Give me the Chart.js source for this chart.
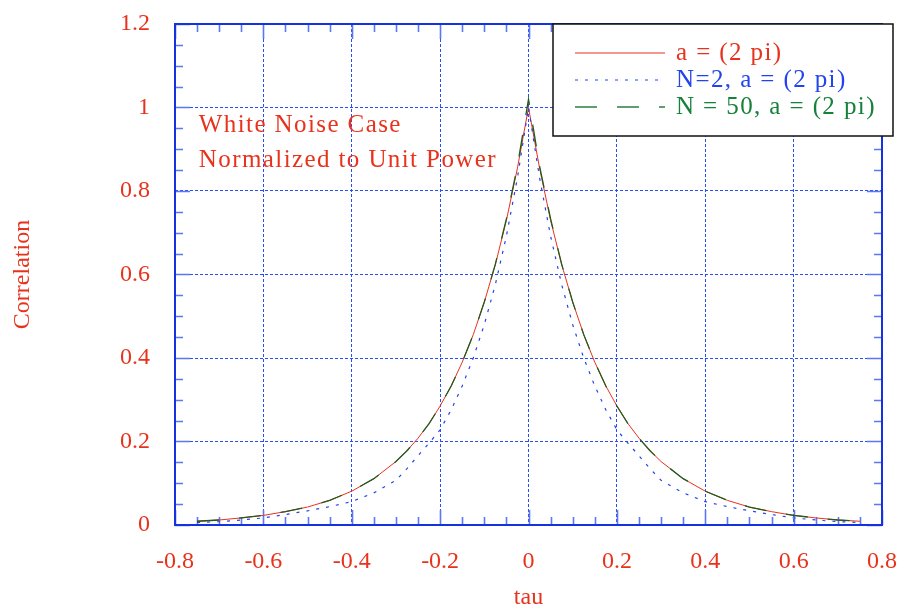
<!DOCTYPE html>
<html><head><meta charset="utf-8">
<script src="https://cdn.jsdelivr.net/npm/chart.js@4.4.1/dist/chart.umd.min.js"></script>
<style>html,body{margin:0;padding:0;background:#fff}#wrap{width:904px;height:613px}</style>
</head><body><div id="wrap"><canvas id="c" width="904" height="613"></canvas></div>
<script>
// ---- data ----
const tau = [-0.75,-0.7,-0.65,-0.6,-0.55,-0.5,-0.45,-0.4,-0.35,-0.3,-0.275,-0.25,-0.225,-0.2,-0.175,-0.15,-0.125,-0.1,-0.075,-0.05,-0.025,0,
             0.025,0.05,0.075,0.1,0.125,0.15,0.175,0.2,0.225,0.25,0.275,0.3,0.35,0.4,0.45,0.5,0.55,0.6,0.65,0.7,0.75];
const corrExact = [0.009,0.012,0.017,0.023,0.032,0.043,0.059,0.081,0.111,0.152,0.178,0.208,0.243,0.285,0.333,0.390,0.456,0.534,0.624,0.730,0.855,1.000,
                   0.855,0.730,0.624,0.534,0.456,0.390,0.333,0.285,0.243,0.208,0.178,0.152,0.111,0.081,0.059,0.043,0.032,0.023,0.017,0.012,0.009];
const corrN2 = [0.006,0.008,0.012,0.017,0.025,0.034,0.044,0.056,0.077,0.107,0.135,0.166,0.196,0.228,0.276,0.333,0.400,0.480,0.576,0.692,0.832,1.000,
                0.832,0.692,0.576,0.480,0.400,0.333,0.276,0.228,0.196,0.166,0.135,0.107,0.077,0.056,0.044,0.034,0.025,0.017,0.012,0.008,0.006];
const corrN50 = [0.009,0.012,0.017,0.023,0.032,0.043,0.059,0.081,0.111,0.152,0.178,0.208,0.243,0.285,0.333,0.390,0.456,0.534,0.625,0.733,0.860,1.020,
                 0.860,0.733,0.625,0.534,0.456,0.390,0.333,0.285,0.243,0.208,0.178,0.152,0.111,0.081,0.059,0.043,0.032,0.023,0.017,0.012,0.009];
const seriesNames = ['a = (2 pi)', 'N=2, a = (2 pi)', 'N = 50, a = (2 pi)'];
const xTickValues = [-0.8,-0.6,-0.4,-0.2,0,0.2,0.4,0.6,0.8];
const xTickLabels = ['-0.8','-0.6','-0.4','-0.2','0','0.2','0.4','0.6','0.8'];
const yTickValues = [0,0.2,0.4,0.6,0.8,1,1.2];
const yTickLabels = ['0','0.2','0.4','0.6','0.8','1','1.2'];
const noteLines = ['White Noise Case', 'Normalized to Unit Power'];
const xTitle = 'tau';
const yTitle = 'Correlation';

// ---- styles ----
const SERIF = '"Liberation Serif","Times New Roman",serif';
const RED = '#e8321c';
const BLUE = '#2244ee';
const GREEN_LINE = '#215a1e';
const GREEN_TEXT = '#17803a';
const GRID = '#2a4cf8';
const FRAME = '#1532e0';
const TICK = '#5a78f0';

const pts = arr => tau.map((t, i) => ({x: t, y: arr[i]}));

const framePlugin = {
  id: 'frame',
  beforeDatasetsDraw(chart) {
    const {ctx, chartArea: ca, scales: {x, y}} = chart;
    ctx.save();
    ctx.strokeStyle = TICK;
    ctx.lineWidth = 1.6;
    ctx.beginPath();
    for (let i = 0; i <= 32; i++) {
      const px = Math.round(x.getPixelForValue(-0.8 + i * 0.05)) + 0.5;
      const len = i % 4 === 0 ? 15 : 8;
      ctx.moveTo(px, ca.bottom); ctx.lineTo(px, ca.bottom - len);
      ctx.moveTo(px, ca.top); ctx.lineTo(px, ca.top + len);
    }
    for (let i = 0; i <= 24; i++) {
      const py = Math.round(y.getPixelForValue(i * 0.05)) + 0.5;
      const len = i % 4 === 0 ? 15 : 8;
      ctx.moveTo(ca.left, py); ctx.lineTo(ca.left + len, py);
      ctx.moveTo(ca.right, py); ctx.lineTo(ca.right - len, py);
    }
    ctx.stroke();
    ctx.strokeStyle = FRAME;
    ctx.lineWidth = 2;
    ctx.strokeRect(ca.left, ca.top, ca.right - ca.left, ca.bottom - ca.top);
    ctx.restore();
  },
  afterDatasetsDraw(chart) {
    const {ctx, chartArea: ca, scales: {x, y}} = chart;
    ctx.save();
    try { ctx.letterSpacing = '1.4px'; } catch (e) {}
    // note text
    ctx.fillStyle = RED;
    ctx.font = '25px ' + SERIF;
    ctx.textAlign = 'left';
    ctx.textBaseline = 'middle';
    ctx.fillText(noteLines[0], x.getPixelForValue(-0.746), y.getPixelForValue(0.956));
    ctx.fillText(noteLines[1], x.getPixelForValue(-0.746), y.getPixelForValue(0.874));
    // legend box
    const bl = ca.right - 329, bt = ca.top, bw = 340, bh = 112;
    ctx.fillStyle = '#fff';
    ctx.fillRect(bl, bt, bw, bh);
    ctx.strokeStyle = '#111';
    ctx.lineWidth = 1.5;
    ctx.strokeRect(bl, bt, bw, bh);
    const ds = chart.data.datasets;
    const textCols = [RED, BLUE, GREEN_TEXT];
    [0, 1, 2].forEach((k, row) => {
      const d = ds[k];
      const yy = bt + 29 + row * 27;
      ctx.beginPath();
      ctx.setLineDash(d.borderDash || []);
      ctx.strokeStyle = k === 2 ? '#5f9f6f' : d.borderColor;
      ctx.lineWidth = k === 2 ? 2 : 1.2;
      ctx.moveTo(bl + 22, yy); ctx.lineTo(bl + 112, yy);
      ctx.stroke();
      ctx.setLineDash([]);
      ctx.fillStyle = textCols[k];
      ctx.font = '25px ' + SERIF;
      ctx.textBaseline = 'middle';
      ctx.fillText(d.label, bl + 123, yy);
    });
    ctx.restore();
  }
};

new Chart(document.getElementById('c'), {
  type: 'line',
  data: {
    datasets: [
      {label: seriesNames[0], data: pts(corrExact), borderColor: RED, borderWidth: 1, pointRadius: 0, tension: 0, order: 2},
      {label: seriesNames[1], data: pts(corrN2), borderColor: BLUE, borderWidth: 1.2, borderDash: [3, 7], pointRadius: 0, tension: 0, order: 1},
      {label: seriesNames[2], data: pts(corrN50), borderColor: GREEN_LINE, borderWidth: 1.3, borderDash: [22, 20], pointRadius: 0, tension: 0, order: 0}
    ]
  },
  options: {
    responsive: false,
    animation: false,
    devicePixelRatio: 1,
    layout: {padding: {top: 24, right: 22, left: 0, bottom: 0}},
    plugins: {legend: {display: false}, tooltip: {enabled: false}},
    scales: {
      x: {
        type: 'linear', min: -0.8, max: 0.8,
        afterBuildTicks: s => { s.ticks = xTickValues.map(v => ({value: v})); },
        afterFit: s => { s.height = 88; s.paddingLeft = 0; s.paddingRight = 0; },
        ticks: {callback: (v, i) => xTickLabels[i], color: RED, font: {family: SERIF, size: 24}, padding: 22, maxRotation: 0, autoSkip: false},
        grid: {color: GRID, lineWidth: 1, drawTicks: false},
        border: {display: false, dash: [3, 2]},
        title: {display: true, text: xTitle, color: RED, font: {family: SERIF, size: 24}, padding: {top: 0, bottom: 1}}
      },
      y: {
        type: 'linear', min: 0, max: 1.2,
        afterBuildTicks: s => { s.ticks = yTickValues.map(v => ({value: v})); },
        afterFit: s => { s.width = 175; s.paddingTop = 0; s.paddingBottom = 0; },
        ticks: {callback: (v, i) => yTickLabels[i], color: RED, font: {family: SERIF, size: 24}, padding: 25, autoSkip: false},
        grid: {color: GRID, lineWidth: 1, drawTicks: false},
        border: {display: false, dash: [3, 2]},
        title: {display: true, text: yTitle, color: RED, font: {family: SERIF, size: 24}, padding: {top: 8, bottom: 0}}
      }
    }
  },
  plugins: [framePlugin]
});
</script></body></html>
